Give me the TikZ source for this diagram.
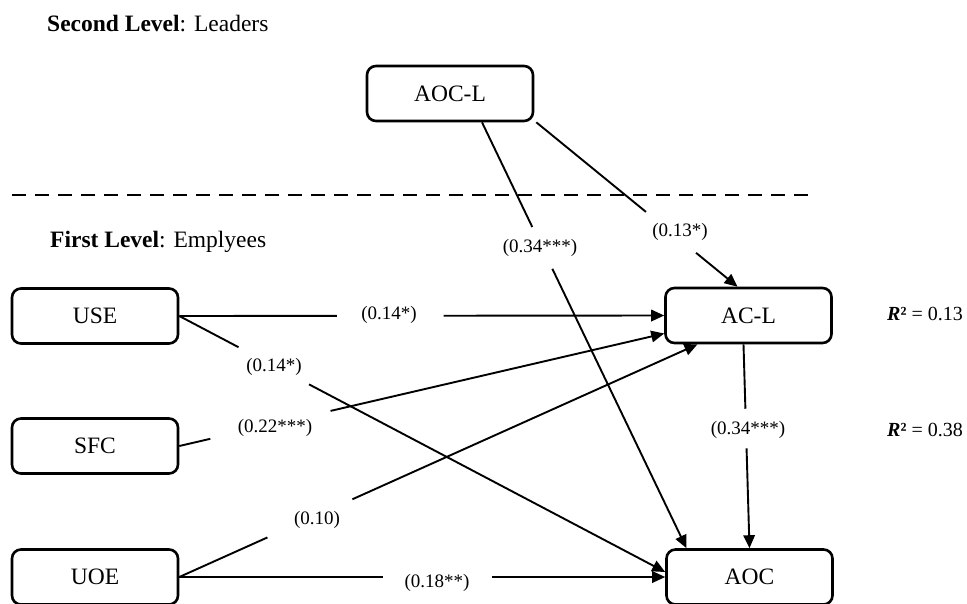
\documentclass[tikz,border=0pt]{standalone}
\usepackage{fontspec}
\setmainfont{Liberation Serif}
\usetikzlibrary{arrows.meta,calc}
\begin{document}
\begin{tikzpicture}[x=1pt,y=-1pt,
  box/.style={draw,line width=2.6pt,rounded corners=9pt,minimum width=166pt,minimum height=55pt,inner sep=0pt,font=\fontsize{23.5}{28}\selectfont},
  lbl/.style={inner sep=0pt,font=\fontsize{19}{23}\selectfont},
  head/.style={inner sep=0pt,anchor=west,font=\fontsize{23.5}{28}\selectfont},
  rsq/.style={inner sep=0pt,anchor=west,font=\fontsize{20}{24}\selectfont},
  conn/.style={line width=1.9pt},
  arr/.style={conn,-{Triangle[length=13pt,width=11.5pt]}},
  sep/.style={line width=2.8pt,dash pattern=on 14pt off 9pt}]
\useasboundingbox (0,0) rectangle (967,603);

% headings
\node[head] (h2) at (47,24) {\textbf{Second Level}: Leaders};
\node[head] (h1) at (50,242) {\textbf{First Level}: Emplyees};

% dashed level separator
\coordinate (dl) at (12,195);
\coordinate (dr) at (812,195);
\draw[sep] (dl) -- (dr);

% boxes
\node[box] (AOCL) at (450,93.5) {AOC-L};
\node[box] (ACL)  at (748.5,315.5) {AC-L};
\node[box] (AOC)  at (749.5,577) {AOC};
\node[box] (USE)  at (95,316) {USE};
\node[box] (SFC)  at (95,446) {SFC};
\node[box] (UOE)  at (95,577) {UOE};

% R squared
\node[rsq] (r1) at (887,314) {\textbf{\textit{R}}\textbf{²} = 0.13};
\node[rsq] (r2) at (887,430) {\textbf{\textit{R}}\textbf{²} = 0.38};

% end points
\coordinate (s1) at ($(AOCL.south)+(32,0)$);
\coordinate (e1) at ($(AOC.north)+(-63,0)$);
\coordinate (s2) at ($(AOCL.south east)+(2,0)$);
\coordinate (e2) at ($(ACL.north)+(-11,0)$);
\coordinate (e4) at ($(AOC.west)+(0,-5)$);
\coordinate (e5) at ($(ACL.west)+(0,18)$);
\coordinate (e6) at ($(ACL.south)+(-51,0)$);
\coordinate (s8) at ($(ACL.south)+(-5,0)$);

% gaps
\path (s1) -- (e1) coordinate[pos=0.246] (g1a) coordinate[pos=0.344] (g1b);
\path (s2) -- (e2) coordinate[pos=0.545] (g2a) coordinate[pos=0.794] (g2b);
\path (USE.east) -- (ACL.west) coordinate[pos=0.325] (g3a) coordinate[pos=0.545] (g3b);
\path (USE.east) -- (e4) coordinate[pos=0.122] (g4a) coordinate[pos=0.267] (g4b);
\path (SFC.east) -- (e5) coordinate[pos=0.064] (g5a) coordinate[pos=0.312] (g5b);
\path (UOE.east) -- (e6) coordinate[pos=0.17] (g6a) coordinate[pos=0.334] (g6b);
\path (UOE.east) -- (AOC.west) coordinate[pos=0.42] (g7a) coordinate[pos=0.644] (g7b);
\path (s8) -- (AOC.north) coordinate[pos=0.316] (g8a) coordinate[pos=0.51] (g8b);

% connectors
\draw[conn] (s1) -- (g1a);  \draw[arr] (g1b) -- (e1);
\draw[conn] (s2) -- (g2a);  \draw[arr] (g2b) -- (e2);
\draw[conn] (USE.east) -- (g3a);  \draw[arr] (g3b) -- (ACL.west);
\draw[conn] (USE.east) -- (g4a);  \draw[arr] (g4b) -- (e4);
\draw[conn] (SFC.east) -- (g5a);  \draw[arr] (g5b) -- (e5);
\draw[conn] (UOE.east) -- (g6a);  \draw[arr] (g6b) -- (e6);
\draw[conn] (UOE.east) -- (g7a);  \draw[arr] (g7b) -- (AOC.west);
\draw[conn] (s8) -- (g8a);  \draw[arr] (g8b) -- (AOC.north);

% labels
\node[lbl] (l1) at (540,248) {(0.34***)};
\node[lbl] (l2) at (680,232) {(0.13*)};
\node[lbl] (l3) at (389,315) {(0.14*)};
\node[lbl] (l4) at (274,367) {(0.14*)};
\node[lbl] (l5) at (275,428) {(0.22***)};
\node[lbl] (l6) at (317,520) {(0.10)};
\node[lbl] (l7) at (437,583) {(0.18**)};
\node[lbl] (l8) at (748,430) {(0.34***)};
\end{tikzpicture}
\end{document}
